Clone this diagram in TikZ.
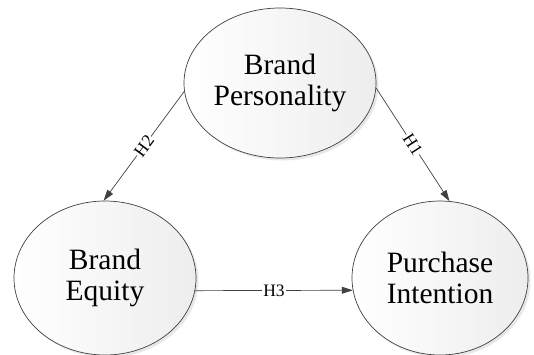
\documentclass[tikz,border=0pt]{standalone}
\usepackage{fontspec}
\setmainfont{Liberation Serif}
\usetikzlibrary{arrows.meta,shapes.geometric,shadows}
\definecolor{lnc}{HTML}{404040}
\tikzset{
  bubble/.style={ellipse, draw=lnc, line width=0.7pt, left color=white, right color=gray!14,
    drop shadow={shadow xshift=2.5pt, shadow yshift=-2.5pt, fill=gray!30, opacity=0.6},
    inner sep=0pt},
  btext/.style={align=center, inner sep=0pt, font=\fontsize{29.5}{31}\selectfont},
  arr/.style={draw=lnc, line width=0.7pt, -{Triangle[length=11pt,width=7pt]}},
  hyp/.style={fill=white, inner sep=1pt, font=\fontsize{17.5}{17.5}\selectfont},
}
\begin{document}
\begin{tikzpicture}[x=1pt,y=-1pt]
\useasboundingbox (0,0) rectangle (534,354);
\node[bubble, minimum width=192pt, minimum height=150pt] (bp) at (280,83) {};
\node[bubble, minimum width=182pt, minimum height=154pt] (be) at (105,278) {};
\node[bubble, minimum width=176pt, minimum height=154pt] (pi) at (440,278) {};
\node[btext] (bpt) at (bp.center) {Brand\\Personality};
\node[btext] (bet) at (be.center) {Brand\\Equity};
\node[btext] (pit) at (pi.center) {Purchase\\Intention};
\draw[arr] (bp.185) -- node[hyp, sloped] {H2} (be.91);
\draw[arr] (bp.-3) -- node[hyp, sloped] {H1} (pi.83);
\draw[arr] (be.-8) -- node[hyp] {H3} (pi.188);
\end{tikzpicture}
\end{document}
